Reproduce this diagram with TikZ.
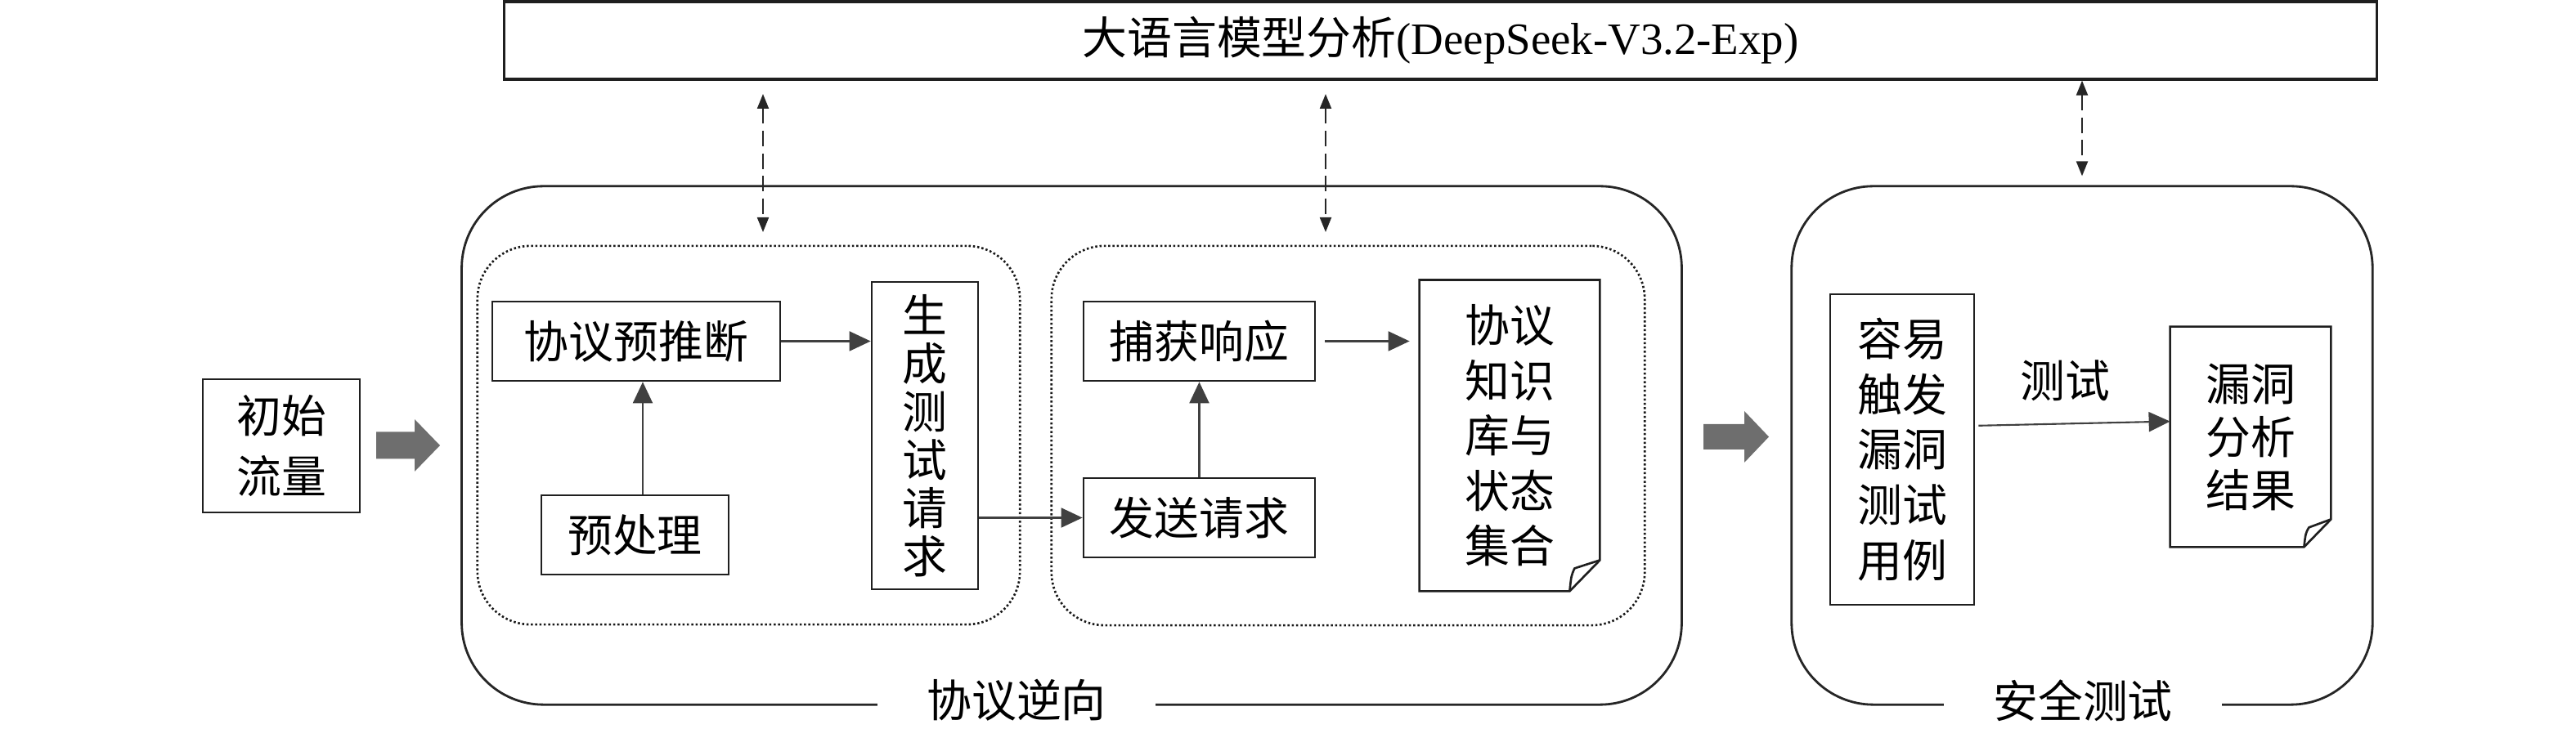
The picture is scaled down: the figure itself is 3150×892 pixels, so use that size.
\documentclass[tikz,border=0pt]{standalone}
\usepackage{fontspec}
\setmainfont{Liberation Serif}
\newfontfamily\cjk{Noto Sans CJK SC}
\usetikzlibrary{arrows.meta,calc}
\newcommand\mydoc[3]{%
  \draw[boxline] (#1.north west) -- (#1.north east) -- ($(#1.south east)+(0,-#3)$) -- ($(#1.south east)+(-#2,0)$) -- (#1.south west) -- cycle;
  \draw[boxline, line join=round] ($(#1.south east)+(-#2,0)$) .. controls ($(#1.south east)+(-#2+2,-#3*0.5)$) .. ($(#1.south east)+(-#2+6,-#3+10)$) -- ($(#1.south east)+(0,-#3)$);
}
\begin{document}
\begin{tikzpicture}[x=0.01cm,y=-0.01cm,
  boxline/.style={draw=black!88, line width=0.75pt},
  cjkfont/.style={font=\cjk\fontsize{15.6pt}{#1}\selectfont},
  box/.style={boxline, inner sep=0pt, align=center, cjkfont=18pt},
  bigbox/.style={draw=black!85, line width=0.8pt, rounded corners=1cm, inner sep=0pt},
  dotbox/.style={draw=black!90, line width=0.75pt, dash pattern=on 0.025cm off 0.028cm, rounded corners=0.65cm, inner sep=0pt},
  arr/.style={draw=black!75, line width=0.6pt, -{Triangle[length=0.26cm,width=0.24cm]}},
  darr/.style={draw=black!85, line width=0.6pt, dash pattern=on 0.19cm off 0.085cm, {Triangle[length=0.18cm,width=0.14cm]}-{Triangle[length=0.18cm,width=0.14cm]}},
  fat/.style={fill=black!57},
  lab/.style={cjkfont=18pt, fill=white, inner xsep=0.6cm, inner ysep=0pt}
]
\useasboundingbox (0,0) rectangle (3150,892);

% top LLM box
\node[box, line width=0.9pt, minimum width=22.89cm, minimum height=0.95cm] (llm) at (1761.5,49.5) {大语言模型分析{\rmfamily (DeepSeek-V3.2-Exp)}};

% containers
\node[bigbox, minimum width=14.91cm, minimum height=6.34cm] (rev) at (1310.5,545) {};
\node[bigbox, minimum width=7.10cm, minimum height=6.34cm] (sec) at (2546,545) {};
\node[lab] (revlab) at (1243,857) {协议逆向};
\node[lab] (seclab) at (2547,857) {安全测试};
\node[dotbox, minimum width=6.63cm, minimum height=4.63cm] (d1) at (915.5,532.5) {};
\node[dotbox, minimum width=7.25cm, minimum height=4.64cm] (d2) at (1648.5,533) {};

% boxes
\node[box, cjkfont=20.8pt, minimum width=1.92cm, minimum height=1.63cm] (init) at (344,545.5) {初始\\流量};
\node[box, minimum width=3.52cm, minimum height=0.97cm] (infer) at (778,417.5) {协议预推断};
\node[box, minimum width=2.29cm, minimum height=0.97cm] (pre) at (776.5,654.5) {预处理};
\node[box, cjkfont=16.8pt, minimum width=1.30cm, minimum height=3.76cm] (gen) at (1131,533) {生\\成\\测\\试\\请\\求};
\node[box, minimum width=2.83cm, minimum height=0.97cm] (cap) at (1466.5,417.5) {捕获响应};
\node[box, minimum width=2.83cm, minimum height=0.97cm] (send) at (1466.5,633.5) {发送请求};
\node[box, draw=none, cjkfont=19.2pt, minimum width=2.18cm, minimum height=3.78cm] (kb) at (1846,533) {协议\\知识\\库与\\状态\\集合};
\mydoc{kb}{37}{38}
\node[box, cjkfont=19.3pt, minimum width=1.76cm, minimum height=3.80cm] (case) at (2326,550) {容易\\触发\\漏洞\\测试\\用例};
\node[box, draw=none, cjkfont=18.5pt, minimum width=1.94cm, minimum height=2.67cm] (res) at (2752,534.5) {漏洞\\分析\\结果};
\mydoc{res}{33}{34}

% arrows
\draw[arr] ([xshift=0.095cm]pre.north) -- ([xshift=0.095cm]pre.north |- infer.south);
\draw[arr] (infer.east) -- (infer.east -| gen.west);
\draw[arr] (gen.east |- send.west) -- (send.west);
\draw[arr] (send.north) -- (cap.south);
\draw[arr, shorten <=0.11cm, shorten >=0.12cm] (cap.east) -- (cap.east -| kb.west);
\draw[arr, shorten <=0.04cm] ($(case.north east)!0.424!(case.south east)$) -- ($(res.north west)!0.43!(res.south west)$);
\node[cjkfont=18pt, inner sep=0pt] (testlab) at (2525,466) {测试};

% fat arrows
\coordinate (f1) at (460,545);
\fill[fat] ($(f1)+(0,-16.5)$) -- ++(47,0) -- ++(0,-15.5) -- ++(31,32) -- ++(-31,32) -- ++(0,-15.5) -- ++(-47,0) -- cycle;
\coordinate (f2) at (2083,534.5);
\fill[fat] ($(f2)+(0,-15.5)$) -- ++(50,0) -- ++(0,-16) -- ++(30,31.5) -- ++(-30,31.5) -- ++(0,-16) -- ++(-50,0) -- cycle;

% dashed LLM arrows
\coordinate (a1t) at (933,115); \coordinate (a1b) at (933,284);
\coordinate (a2t) at (1621,115); \coordinate (a2b) at (1621,284);
\draw[darr] (a1t) -- (a1b);
\draw[darr] (a2t) -- (a2b);
\draw[darr] (sec.north |- llm.south) -- ([yshift=0.11cm]sec.north);
\end{tikzpicture}
\end{document}
